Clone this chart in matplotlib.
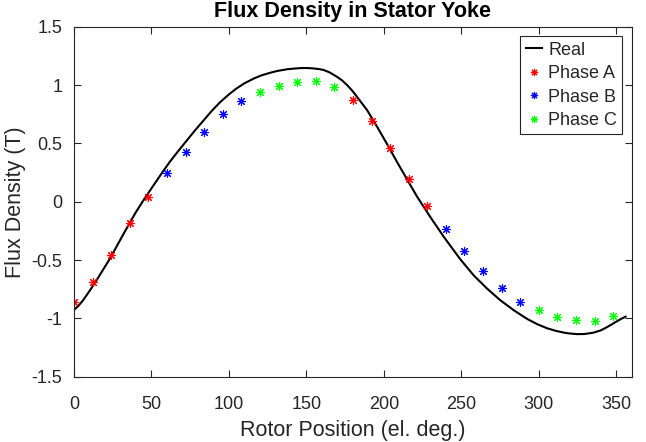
import numpy as np
import matplotlib
matplotlib.use("Agg")
import matplotlib.pyplot as plt
from matplotlib.ticker import FormatStrFormatter

plt.rcParams['font.family'] = ['Liberation Sans', 'DejaVu Sans']
plt.rcParams['axes.unicode_minus'] = False

real_x = [0, 3, 6, 10, 14.6, 23.3, 29.7, 36.2, 40, 44.8, 50, 57.7, 62, 67, 72.8,
          78, 83.5, 89, 94.3, 100, 105, 110, 115.9, 121, 126.6, 131, 137.4, 142,
          146, 150, 154, 158, 161.1, 165, 169.7, 173, 176.2, 179.5, 182.6, 189.1,
          195.6, 202, 208.5, 215, 221.4, 230, 238.6, 249.4, 258, 266.6, 275.2,
          283.8, 292.5, 299, 305.4, 311, 316.2, 319, 324.5, 329.5, 335, 340, 344,
          348.5, 353, 356]
real_y = [-0.928, -0.89, -0.842, -0.765, -0.672, -0.485, -0.33, -0.175, -0.088,
          0.012, 0.115, 0.265, 0.345, 0.43, 0.525, 0.61, 0.695, 0.78, 0.853, 0.92,
          0.972, 1.015, 1.055, 1.083, 1.105, 1.12, 1.135, 1.141, 1.145, 1.146,
          1.143, 1.137, 1.129, 1.108, 1.071, 1.04, 1.0, 0.953, 0.90, 0.786, 0.643,
          0.495, 0.34, 0.19, 0.044, -0.132, -0.30, -0.495, -0.632, -0.745, -0.845,
          -0.93, -1.005, -1.05, -1.085, -1.107, -1.122, -1.128, -1.135, -1.134,
          -1.123, -1.103, -1.075, -1.04, -1.005, -0.985]

# phase estimates
phA_x = [0, 12, 24, 36, 48, 180, 192, 204, 216, 228]
phA_y = [-0.857, -0.686, -0.457, -0.185, 0.043, 0.871, 0.694, 0.463, 0.195, -0.037]
phB_x = [60, 72, 84, 96, 108, 240, 252, 264, 276, 288]
phB_y = [0.249, 0.428, 0.595, 0.749, 0.866, -0.237, -0.422, -0.591, -0.740, -0.857]
phC_x = [120, 132, 144, 156, 168, 300, 312, 324, 336, 348]
phC_y = [0.943, 0.991, 1.026, 1.034, 0.980, -0.928, -0.985, -1.014, -1.022, -0.977]

axcol = (0.15, 0.15, 0.15)
star = (8, 2, 0)

fig = plt.figure(figsize=(6.46, 4.42), dpi=100)
ax = fig.add_axes([0.1146, 0.1477, 0.978 - 0.1146, 0.9396 - 0.1477])

ax.plot(real_x, real_y, color='k', lw=1.5, label='Real')
ax.plot(phA_x, phA_y, ls='none', marker=star, ms=6.5, mew=0.8, color='r', label='Phase A')
ax.plot(phB_x, phB_y, ls='none', marker=star, ms=6.5, mew=0.8, color='b', label='Phase B')
ax.plot(phC_x, phC_y, ls='none', marker=star, ms=6.5, mew=0.8, color='#00ff00', label='Phase C')

ax.set_xlim(0, 360)
ax.set_ylim(-1.5, 1.5)
ax.set_xticks(np.arange(0, 351, 50))
ax.set_yticks(np.arange(-1.5, 1.51, 0.5))
ax.yaxis.set_major_formatter(FormatStrFormatter('%g'))

for s in ax.spines.values():
    s.set_color(axcol)
    s.set_linewidth(0.8)
ax.tick_params(direction='in', top=True, right=True, length=5, width=0.8,
               color=axcol, labelcolor=axcol, labelsize=13)
ax.tick_params(axis='x', pad=14)
ax.tick_params(axis='y', pad=8.5)

ax.set_xlabel('Rotor Position (el. deg.)', fontsize=15.5, color=axcol, labelpad=5)
ax.set_ylabel('Flux Density (T)', fontsize=15.5, color=axcol, labelpad=4)
ax.set_title('Flux Density in Stator Yoke', fontsize=15.5, fontweight='bold', pad=7)

leg = ax.legend(loc='upper right', fontsize=13, fancybox=False, framealpha=1,
                edgecolor=axcol, handlelength=0.9, handletextpad=0.35,
                borderpad=0.3, labelspacing=0.36, borderaxespad=0.52,
                markerscale=0.8)
leg.get_frame().set_linewidth(0.8)
for t in leg.get_texts():
    t.set_color(axcol)

fig.savefig('out.png', dpi=100)
